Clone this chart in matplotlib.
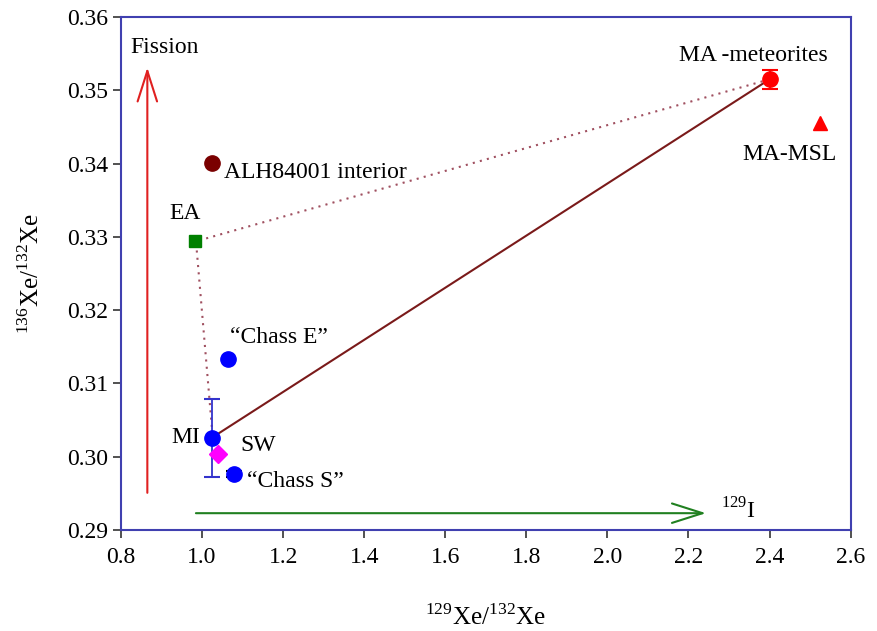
import numpy as np
import matplotlib
matplotlib.use('Agg')
import matplotlib.pyplot as plt

plt.rcParams['font.family'] = ['Liberation Serif', 'DejaVu Serif']
plt.rcParams['mathtext.fontset'] = 'custom'
plt.rcParams['mathtext.rm'] = 'Liberation Serif'

# data
names = ['MA -meteorites', 'MA-MSL', 'ALH84001 interior', 'EA', '\u201cChass E\u201d', 'MI', 'SW', '\u201cChass S\u201d']
xe129 = [2.40, 2.524, 1.024, 0.982, 1.064, 1.024, 1.039, 1.079]
xe136 = [0.3515, 0.3455, 0.3401, 0.3294, 0.3134, 0.3026, 0.3004, 0.2976]
yerr = [0.0013, 0.0, 0.0, 0.0, 0.0, 0.0053, 0.0, 0.0004]
colors = ['#ff0000', '#ff0000', '#7a0000', '#008000', '#0000ff', '#0000ff', '#ff00ff', '#0000ff']
markers = ['o', '^', 'o', 's', 'o', 'o', 'D', 'o']
msizes = [11, 10, 11, 9, 11, 11, 9, 11]
errcolors = ['#ff0000', None, None, None, None, '#3333cc', None, '#000000']

# label positions (x, y, ha)
label_xy = [(2.36, 0.3548, 'center'), (2.45, 0.3412, 'center'), (1.055, 0.3388, 'left'),
            (0.958, 0.3332, 'center'), (1.07, 0.3163, 'left'), (0.995, 0.3026, 'right'),
            (1.095, 0.3016, 'left'), (1.11, 0.2966, 'left')]

mix_solid = ([1.03, 2.40], [0.3028, 0.3515])
mix_dot = ([2.40, 0.985, 1.025], [0.3515, 0.3294, 0.3035])

fig = plt.figure(figsize=(8.78, 6.31), dpi=100)
ax = fig.add_axes([0.1378, 0.160, 0.831, 0.813])

ax.plot(*mix_solid, color='#7a1a1a', lw=1.5, zorder=2)
ax.plot(*mix_dot, color='#a05060', lw=1.5, ls=(0, (1, 2.5)), zorder=2)

for i in range(len(names)):
    if yerr[i] > 0:
        ax.errorbar(xe129[i], xe136[i], yerr=yerr[i], fmt='none', ecolor=errcolors[i],
                    elinewidth=1.3, capsize=6, capthick=1.5, zorder=3)
    ax.plot(xe129[i], xe136[i], marker=markers[i], ms=msizes[i], color=colors[i],
            ls='none', zorder=4)
    lx, ly, ha = label_xy[i]
    ax.text(lx, ly, names[i], ha=ha, va='center', fontsize=17)

# fission and iodine arrows
ax.annotate('', xy=(0.865, 0.3535), xytext=(0.865, 0.2947),
            arrowprops=dict(arrowstyle='->,head_length=1.1,head_width=0.35', color='#e02020',
                            lw=1.5, mutation_scale=20))
ax.text(0.822, 0.3559, 'Fission', fontsize=17, va='center', ha='left')
ax.annotate('', xy=(2.25, 0.2923), xytext=(0.978, 0.2923),
            arrowprops=dict(arrowstyle='->,head_length=1.1,head_width=0.35', color='#208020',
                            lw=1.5, mutation_scale=20))
ax.text(2.28, 0.2926, r'$^{129}$I', fontsize=17, va='center', ha='left')

ax.set_xlim(0.8, 2.6)
ax.set_ylim(0.29, 0.36)
ax.set_xticks(np.arange(0.8, 2.61, 0.2))
ax.set_yticks(np.arange(0.29, 0.3601, 0.01))
ax.xaxis.set_major_formatter(matplotlib.ticker.FormatStrFormatter('%.1f'))
ax.yaxis.set_major_formatter(matplotlib.ticker.FormatStrFormatter('%.2f'))
ax.tick_params(labelsize=17, direction='out', length=6, width=1.2, color='#333333')
ax.tick_params(axis='x', pad=6)
for s in ax.spines.values():
    s.set_color('#4040b0')
    s.set_linewidth(1.5)

ax.set_xlabel(r'$^{129}$Xe/$^{132}$Xe', fontsize=18, labelpad=26)
ax.set_ylabel(r'$^{136}$Xe/$^{132}$Xe', fontsize=18, labelpad=16)

fig.savefig('out.png', dpi=100)
